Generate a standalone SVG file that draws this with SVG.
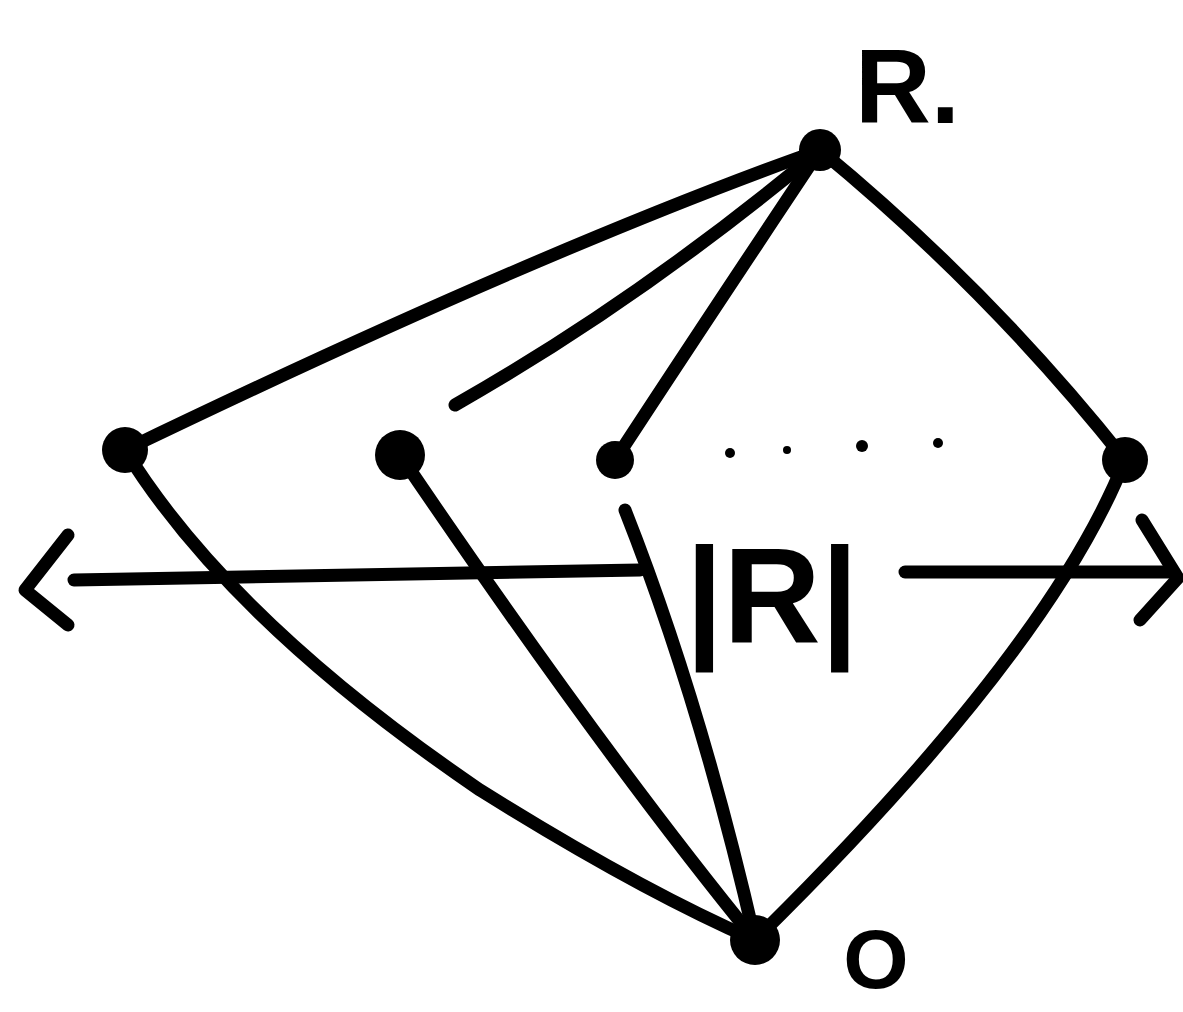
<svg xmlns="http://www.w3.org/2000/svg" width="1183" height="1012" viewBox="0 0 1183 1012">
<style>
.e{fill:none;stroke:#000;stroke-width:13;stroke-linecap:round;stroke-linejoin:round}
.n{fill:#000}
.t{font-family:"Liberation Sans",Arial,sans-serif;fill:#000}
</style>
<rect width="1183" height="1012" fill="#fff"/>
<g id="connectors">
<path class="e" d="M820,150 Q540,250 125,450"/>
<path class="e" d="M820,150 Q640,300 455,405"/>
<path class="e" d="M820,150 Q700,330 615,460"/>
<path class="e" d="M820,150 Q990,290 1125,460"/>
<path class="e" d="M1125,460 Q1050,650 755,940"/>
<path class="e" d="M125,450 Q230,620 480,790 Q640,890 755,940"/>
<path class="e" d="M400,455 Q600,750 755,940"/>
<path class="e" d="M625,510 Q700,700 755,940"/>
<path class="e" d="M74,580 L640,570"/>
<path class="e" d="M905,572 L1170,572"/>
<path class="e" d="M68,535 L25,590 L68,625"/>
<path class="e" d="M1142,520 L1178,578 L1140,620"/>
</g>
<g id="node-R"><circle class="n" cx="820" cy="150" r="21"/><text class="t" x="855" y="123" font-size="105" font-weight="bold">R.</text></g>
<g id="node-1"><circle class="n" cx="125" cy="450" r="23"/></g>
<g id="node-2"><circle class="n" cx="400" cy="455" r="25"/></g>
<g id="node-3"><circle class="n" cx="615" cy="460" r="19"/></g>
<g id="node-4"><circle class="n" cx="1125" cy="460" r="23"/></g>
<g id="node-O"><circle class="n" cx="755" cy="940" r="25"/><text class="t" x="876" y="988" font-size="84" font-weight="bold" text-anchor="middle">O</text></g>
<g id="dots"><circle class="n" cx="730" cy="453" r="5"/><circle class="n" cx="787" cy="450" r="4"/><circle class="n" cx="862" cy="446" r="6"/><circle class="n" cx="938" cy="443" r="5"/></g>
<g id="label-R"><text class="t" x="772" y="642" font-size="135" font-weight="bold" text-anchor="middle">|R|</text></g>
</svg>
